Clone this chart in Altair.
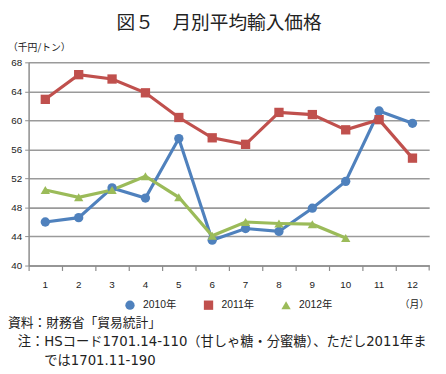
import altair as alt
import pandas as pd

months = list(range(1, 13))
series_names = ["2010年", "2011年", "2012年"]
v2010 = [46.0, 46.6, 50.7, 49.3, 57.5, 43.5, 45.1, 44.7, 47.9, 51.6, 61.3, 59.6]
v2011 = [62.9, 66.3, 65.7, 63.8, 60.4, 57.6, 56.7, 61.1, 60.8, 58.7, 60.1, 54.8]
v2012 = [50.4, 49.4, 50.4, 52.3, 49.4, 44.1, 46.0, 45.8, 45.7, 43.8]
colors = ["#4F81BD", "#C0504D", "#9BBB59"]
shapes = ["circle", "square", "triangle-up"]
y_ticks = [40, 44, 48, 52, 56, 60, 64, 68]

title_text = "図５　月別平均輸入価格"
unit_text = "（千円/トン）"
month_unit = "（月）"
source_text = "資料：財務省「貿易統計」"
note_line1 = "注：HSコード1701.14-110（甘しゃ糖・分蜜糖）、ただし2011年ま"
note_line2 = "では1701.11-190"

rows = []
for name, vals in zip(series_names, [v2010, v2011, v2012]):
    for m, v in zip(months, vals):
        rows.append({"month": m, "value": v, "series": name})
df = pd.DataFrame(rows)

JP = "Noto Sans CJK JP"
MIX = "DejaVu Sans, Noto Sans CJK JP"
NUM = "Liberation Sans, Noto Sans CJK JP"

xenc = alt.X("month:O", bandPosition=0.5,
             scale=alt.Scale(type="band", paddingInner=0, paddingOuter=0),
             axis=alt.Axis(title=None, labelAngle=0, bandPosition=0, tickSize=5,
                           labelPadding=9, domainColor="#8c8c8c", tickColor="#8c8c8c",
                           domainWidth=1.5, tickWidth=1.2, grid=False,
                           labelFont=NUM, labelFontSize=10, labelColor="#222"))
yenc = alt.Y("value:Q",
             scale=alt.Scale(domain=[40, 68], nice=False, zero=False),
             axis=alt.Axis(title=None, values=y_ticks, grid=True, gridColor="#9a9a9a",
                           gridWidth=1.6, domainColor="#8c8c8c", domainWidth=1.5,
                           tickColor="#8c8c8c", tickSize=4, labelPadding=3,
                           labelFont=NUM, labelFontSize=10, labelColor="#222"))
color = alt.Color("series:N", scale=alt.Scale(domain=series_names, range=colors),
                  legend=alt.Legend(title=None, orient="none", direction="horizontal",
                                    legendX=98, legendY=242, symbolSize=90,
                                    labelOffset=8, labelFont=NUM, labelFontSize=10.5,
                                    labelColor="#222", columnPadding=27,
                                    symbolStrokeWidth=0))
shape = alt.Shape("series:N", scale=alt.Scale(domain=series_names, range=shapes))

base = alt.Chart(df)
lines = base.mark_line(strokeWidth=3.2).encode(x=xenc, y=yenc, color=color,
                                               order=alt.Order("month:Q"))
points = base.mark_point(filled=True, opacity=1, size=90).encode(
    x=xenc, y=yenc, color=color, shape=shape)

end_tick = alt.Chart(pd.DataFrame({"a": [0]})).mark_rule(
    color="#8c8c8c", strokeWidth=1.2
).encode(x=alt.value(408), y=alt.value(207), y2=alt.value(212))


def txt(s, x, y, size, align="left", font=JP):
    return alt.Chart(pd.DataFrame({"t": [s]})).mark_text(
        align=align, baseline="middle", fontSize=size, font=font, color="#222"
    ).encode(x=alt.value(x), y=alt.value(y), text="t:N")


texts = [
    txt(title_text, 194, -40, 19, "center"),
    txt(unit_text, -21, -15, 10),
    txt(month_unit, 408, 247, 10, "right"),
    txt(source_text, -21, 266, 13),
    txt(note_line1, -11, 285, 13.5, font=MIX),
    txt(note_line2, 16, 304, 13.5, font=MIX),
]

chart = alt.layer(lines, points, end_tick, *texts).properties(
    width=408, height=207,
    autosize=alt.AutoSizeParams(type="none"),
    padding={"left": 21, "top": 52, "right": 9, "bottom": 100},
).configure_view(stroke=None)

chart.save("out.html", embed_options={"renderer": "svg", "actions": False})
